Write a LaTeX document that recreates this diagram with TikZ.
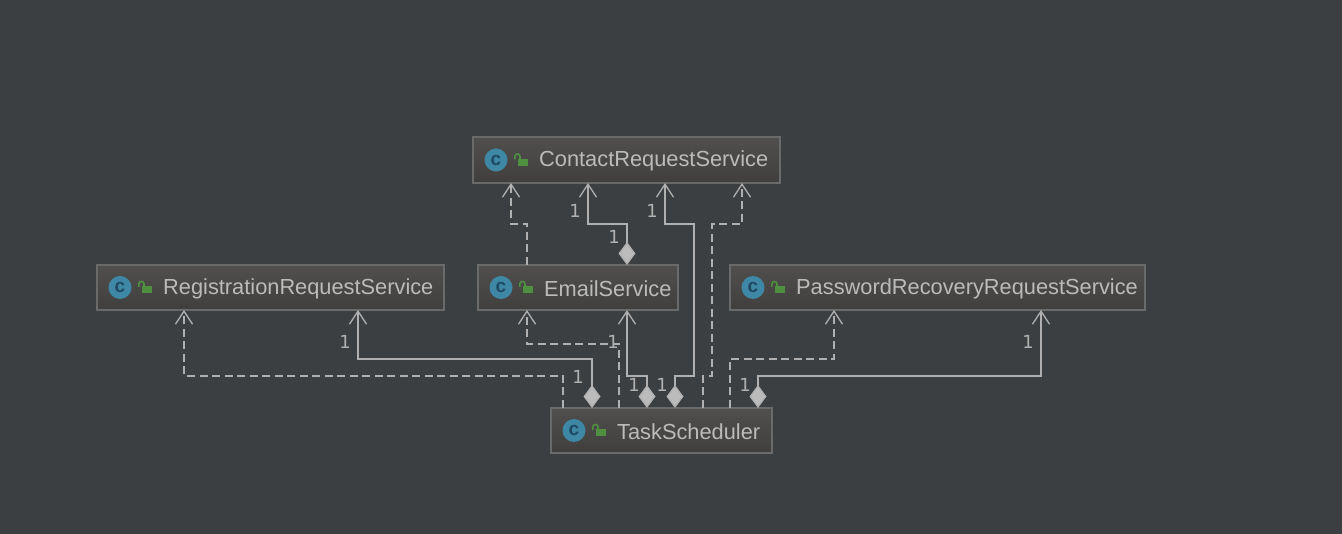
\documentclass[tikz,border=0pt]{standalone}
\usepackage{fontspec}
\setmainfont{Liberation Sans}
\newfontfamily\multfont{DejaVu Sans}
\usetikzlibrary{arrows.meta}
\definecolor{canvasbg}{HTML}{3C3F41}
\definecolor{boxtop}{HTML}{504F4E}
\definecolor{boxbottom}{HTML}{403F3D}
\definecolor{boxline}{HTML}{696A6A}
\definecolor{linkgray}{HTML}{B0B0B0}
\definecolor{textgray}{HTML}{BBBBBB}
\definecolor{iconblue}{HTML}{3E87A5}
\definecolor{icondark}{HTML}{1F4A63}
\definecolor{lockgreen}{HTML}{4F9040}
\tikzset{
    classbox/.style={draw=boxline, line width=1.3pt, top color=boxtop, bottom color=boxbottom,
        anchor=north west, outer sep=0pt, inner sep=0pt},
    classname/.style={text=textgray, font=\fontsize{21.8}{26}\selectfont, anchor=west, inner sep=0pt},
    classicon/.style={circle, fill=iconblue, minimum size=23pt, inner sep=0pt, text=icondark,
        font=\fontsize{19}{19}\selectfont\bfseries},
    mult/.style={text=linkgray, font=\fontsize{18}{20}\multfont, inner sep=0pt},
    owns/.style={draw=linkgray, line width=1.3pt, {Diamond[length=23pt,width=17pt,fill=textgray]}-{Straight Barb[length=13pt,width=17pt]}},
    uses/.style={draw=linkgray, line width=1.3pt, dash pattern=on 8pt off 4.5pt, -{Straight Barb[length=13pt,width=17pt,sep=0pt]}},
    lockicon/.pic={
        \fill[lockgreen] (-3,-1) rectangle (6.5,6);
        \draw[lockgreen, line width=1.6pt] (-1,0) -- (-1,-3.5) arc[start angle=0, end angle=-180, radius=2.6] -- (-6.2,-0.5);
    }
}
\begin{document}
\begin{tikzpicture}[x=1pt, y=-1pt]
    \useasboundingbox (0,0) rectangle (1342,534);
    \fill[canvasbg] (0,0) rectangle (1342,534);
    % class boxes
    \foreach \nm/\xa/\ya/\bw/\bh/\txt in {
        contact/473/137/307/46/ContactRequestService,
        registration/97/265/347/45/RegistrationRequestService,
        email/478/265/200/45/EmailService,
        password/730/265/415/45/PasswordRecoveryRequestService,
        task/551/408/221/45/TaskScheduler} {
        \node[classbox, minimum width=\bw pt, minimum height=\bh pt] (\nm) at (\xa,\ya) {};
        \node[classicon] (\nm icon) at ([xshift=23pt]\nm.west) {c};
        \pic at ([xshift=48pt]\nm.west) {lockicon};
        \node[classname] (\nm name) at ([xshift=66pt, yshift=-1pt]\nm.west) {\txt};
    }
    % links to ContactRequestService
    \draw[uses] ([xshift=49pt]email.north west) -- ++(0,-41) -| ([xshift=38pt]contact.south west);
    \draw[owns] ([xshift=149pt]email.north west) -- ++(0,-41) -| ([xshift=115pt]contact.south west);
    \draw[owns] ([xshift=124pt]task.north west) -- ++(0,-32) -| ++(19,-152) -| ([xshift=192pt]contact.south west);
    \draw[uses] ([xshift=152pt]task.north west) -- ++(0,-32) -| ++(9,-152) -| ([xshift=269pt]contact.south west);
    % links to EmailService
    \draw[uses] ([xshift=68pt]task.north west) -- ++(0,-64) -| ([xshift=49pt]email.south west);
    \draw[owns] ([xshift=96pt]task.north west) -- ++(0,-32) -| ([xshift=149pt]email.south west);
    % links to RegistrationRequestService
    \draw[uses] ([xshift=12pt]task.north west) -- ++(0,-32) -| ([xshift=87pt]registration.south west);
    \draw[owns] ([xshift=41pt]task.north west) -- ++(0,-49) -| ([xshift=261pt]registration.south west);
    % links to PasswordRecoveryRequestService
    \draw[uses] ([xshift=179pt]task.north west) -- ++(0,-49) -| ([xshift=104pt]password.south west);
    \draw[owns] ([xshift=207pt]task.north west) -- ++(0,-32) -| ([xshift=311pt]password.south west);
    % multiplicities
    \foreach \x/\y [count=\i] in {575/211, 614/237, 652/211, 345/342, 578/377, 613/342, 634/385, 662/385, 745/385, 1028/342} {
        \node[mult] (mult\i) at (\x,\y) {1};
    }
\end{tikzpicture}
\end{document}
